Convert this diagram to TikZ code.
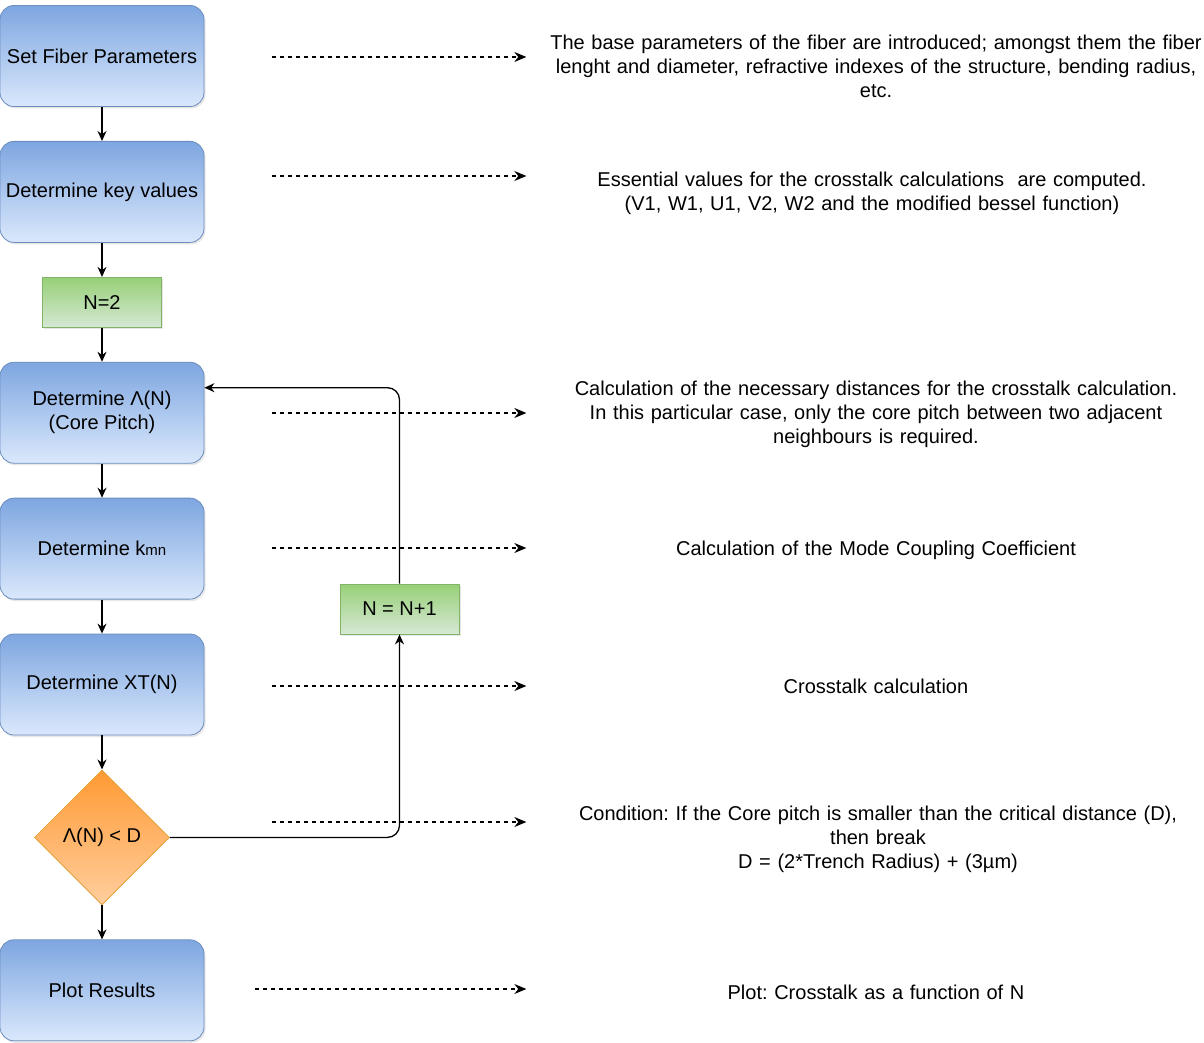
\documentclass[tikz,border=0pt]{standalone}
\usepackage{fontspec}
\setmainfont{Liberation Sans}
\usepackage{tikz}
\usetikzlibrary{shapes, arrows.meta, positioning, shadows}
\definecolor{bluetop}{HTML}{7EA6E0}
\definecolor{bluebot}{HTML}{DAE8FC}
\definecolor{blueline}{HTML}{6C8EBF}
\definecolor{greentop}{HTML}{97D077}
\definecolor{greenbot}{HTML}{D5E8D4}
\definecolor{greenline}{HTML}{82B366}
\definecolor{orangetop}{HTML}{FF9A33}
\definecolor{orangebot}{HTML}{FFCE9E}
\definecolor{orangeline}{HTML}{E6A23C}
\tikzstyle{block} = [draw=blueline, line width=0.8pt, rounded corners=14pt, top color=bluetop, bottom color=bluebot, minimum height=101pt, minimum width=204pt, drop shadow={opacity=0.2, shadow xshift=1.5pt, shadow yshift=-2pt}]
\tikzstyle{blockg} = [draw=greenline, line width=0.8pt, top color=greentop, bottom color=greenbot, minimum height=50pt, minimum width=119pt, drop shadow={opacity=0.2, shadow xshift=1.5pt, shadow yshift=-2pt}]
\tikzstyle{decision} = [diamond, draw=orangeline, line width=0.8pt, top color=orangetop, bottom color=orangebot, minimum width=135pt, minimum height=135pt, inner sep=0pt]
\tikzstyle{desc} = [text width=680pt, align=center, inner sep=0pt]
\tikzstyle{note} = [draw, line width=1.3pt, dash pattern=on 4pt off 4pt, -{Stealth[length=12pt,width=10pt]}, shorten >=9pt]
\frenchspacing

\begin{document}
\begin{tikzpicture}[x=1pt, y=-1pt, node distance=34.1pt, >={Stealth[length=10pt,width=9pt]}, line width=1.3pt, font=\fontsize{20}{24}\selectfont]
    \useasboundingbox (0,0) rectangle (1204,1043);
    % We start by placing the blocks
    \node [block] (set) at (102,56) {Set Fiber Parameters};
    \node [block, below=of set] (key) {Determine key values};
    \node [blockg, below=of key] (n2) {N=2};
    \node [block, below=of n2, align=center] (pitch) {Determine Λ(N)\\(Core Pitch)};
    \node [block, below=of pitch] (kmn) {Determine k{\fontsize{15}{15}\selectfont mn}};
    \node [block, below=of kmn] (xt) {Determine XT(N)};
    \node [decision, below=of xt] (cond) {Λ(N) < D};
    \node [block, below=of cond] (plot) {Plot Results};
    \node [blockg] (inc) at (399.5,609) {N = N+1};

    % descriptions
    \node [desc] (d1) at (876,66) {The base parameters of the fiber are introduced; amongst them the fiber\\lenght and diameter, refractive indexes of the structure, bending radius,\\etc.};
    \node [desc] (d2) at (872,193) {Essential values for the crosstalk calculations\ \ are computed.\\(V1, W1, U1, V2, W2 and the modified bessel function)};
    \node [desc] (d3) at (876,414) {Calculation of the necessary distances for the crosstalk calculation.\\In this particular case, only the core pitch between two adjacent\\neighbours is required.};
    \node [desc] (d4) at (876,550) {Calculation of the Mode Coupling Coefficient};
    \node [desc] (d5) at (876,686) {Crosstalk calculation};
    \node [desc] (d6) at (878,839) {Condition: If the Core pitch is smaller than the critical distance (D),\\then break\\D = (2*Trench Radius) + (3µm)};
    \node [desc] (d7) at (876,992) {Plot: Crosstalk as a function of N};

    \coordinate (s1) at (272,57);
    \coordinate (s2) at (272,176);
    \coordinate (s3) at (272,413);
    \coordinate (s4) at (272,548);
    \coordinate (s5) at (272,686);
    \coordinate (s6) at (272,822);
    \coordinate (s7) at (255,989);

    \draw[->] (set) -- (key);
    \draw[->] (key) -- (n2);
    \draw[->] (n2) -- (pitch);
    \draw[->] (pitch) -- (kmn);
    \draw[->] (kmn) -- (xt);
    \draw[->] (xt) -- (cond);
    \draw[->] (cond) -- (plot);
    \draw[->, rounded corners=12pt] (cond.east) -| (inc.south);
    \draw[->, rounded corners=12pt] (inc.north) |- ([yshift=25pt]pitch.east);

    \draw[note] (s1) -- (s1 -| d1.west);
    \draw[note] (s2) -- (s2 -| d1.west);
    \draw[note] (s3) -- (s3 -| d1.west);
    \draw[note] (s4) -- (s4 -| d1.west);
    \draw[note] (s5) -- (s5 -| d1.west);
    \draw[note] (s6) -- (s6 -| d1.west);
    \draw[note] (s7) -- (s7 -| d1.west);
\end{tikzpicture}
\end{document}
